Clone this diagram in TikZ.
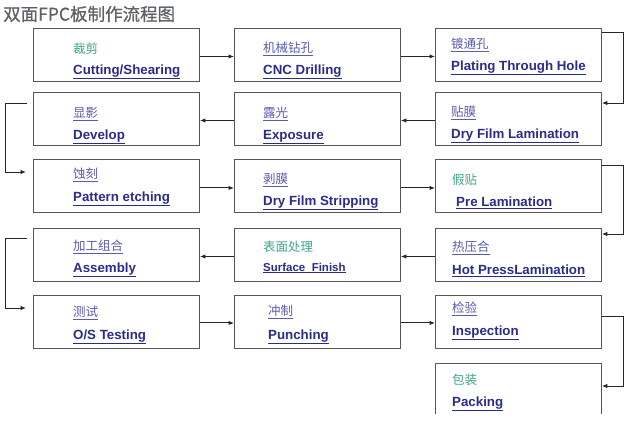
\documentclass[tikz,border=0pt]{standalone}
\usepackage{fontspec}
\setmainfont{Liberation Sans}
\newfontfamily\cjk{Noto Sans CJK SC}
\newfontfamily\cjktitle{Noto Sans CJK SC}[FakeBold=0.8]
\usetikzlibrary{arrows.meta}
\definecolor{boxgray}{HTML}{555555}
\definecolor{engblue}{HTML}{2B2B8A}
\definecolor{cnblue}{HTML}{5A5AAE}
\definecolor{cnteal}{HTML}{3FA586}
\definecolor{titlegray}{HTML}{5E6166}
\tikzset{
  x=1pt,y=-1pt,
  stepbox/.style={draw=boxgray,line width=0.9pt,minimum width=166pt,minimum height=53pt,inner sep=0pt,anchor=north west},
  eng/.style={anchor=west,inner sep=0pt,text=engblue,font=\fontsize{13.3}{15}\selectfont\bfseries},
  cnb/.style={anchor=west,inner sep=0pt,text=cnblue,font=\fontsize{12.5}{14}\selectfont\cjk},
  cnt/.style={anchor=west,inner sep=0pt,text=cnteal,font=\fontsize{12.5}{14}\selectfont\cjk},
  conn/.style={draw=black!85,line width=1pt,-{Latex[length=5.5pt,width=4.5pt]}},
}
\newcommand{\ul}[1]{\underline{#1}}
\begin{document}
\begin{tikzpicture}
\useasboundingbox (0,0) rectangle (629,421);
\node[anchor=west,inner sep=0pt,text=titlegray,font=\fontsize{17.5}{19}\selectfont\cjktitle] (title) at (3,14) {双面FPC板制作流程图};
% boxes
\node[stepbox] (cut) at (33,28) {};
\node[stepbox] (cnc) at (234,28) {};
\node[stepbox] (pth) at (435,28) {};
\node[stepbox] (dev) at (33,92) {};
\node[stepbox] (exp) at (234,92) {};
\node[stepbox] (dfl) at (435,92) {};
\node[stepbox] (etch) at (33,159) {};
\node[stepbox] (dfs) at (234,159) {};
\node[stepbox] (pre) at (435,159) {};
\node[stepbox] (asm) at (33,228) {};
\node[stepbox] (surf) at (234,228) {};
\node[stepbox] (hot) at (435,228) {};
\node[stepbox] (ost) at (33,295) {};
\node[stepbox] (pun) at (234,295) {};
\node[stepbox] (ins) at (435,295) {};
\node[stepbox,draw=none,minimum height=50pt] (pack) at (435,363) {};
\draw[draw=boxgray,line width=0.9pt] (pack.south west) -- (pack.north west) -- (pack.north east) -- (pack.south east);
% texts
\node[cnt] (t1a) at (73,49) {裁剪};
\node[eng] (t1b) at (73,72) {\ul{Cutting/Shearing}};
\node[cnb] (t2a) at (263,49) {\ul{机械钻孔}};
\node[eng] (t2b) at (263,72) {\ul{CNC Drilling}};
\node[cnb] (t3a) at (451,45) {\ul{镀通孔}};
\node[eng] (t3b) at (451,68) {\ul{Plating Through Hole}};
\node[cnb] (t4a) at (73,114) {\ul{显影}};
\node[eng] (t4b) at (73,137) {\ul{Develop}};
\node[cnb] (t5a) at (263,114) {\ul{露光}};
\node[eng] (t5b) at (263,137) {\ul{Exposure}};
\node[cnb] (t6a) at (451,113) {\ul{贴膜}};
\node[eng] (t6b) at (451,136) {\ul{Dry Film Lamination}};
\node[cnb] (t7a) at (73,175) {\ul{蚀刻}};
\node[eng] (t7b) at (73,199) {\ul{Pattern etching}};
\node[cnb] (t8a) at (263,180) {\ul{剥膜}};
\node[eng] (t8b) at (263,203) {\ul{Dry Film Stripping}};
\node[cnt] (t9a) at (452,180) {假贴};
\node[eng] (t9b) at (456,203) {\ul{Pre Lamination}};
\node[cnb] (t10a) at (73,247) {\ul{加工组合}};
\node[eng] (t10b) at (73,270) {\ul{Assembly}};
\node[cnt] (t11a) at (263,247) {表面处理};
\node[eng,font=\fontsize{11.5}{13}\selectfont\bfseries] (t11b) at (263,268) {\ul{Surface\ \ Finish}};
\node[cnb] (t12a) at (452,248) {\ul{热压合}};
\node[eng] (t12b) at (452,271) {\ul{Hot PressLamination}};
\node[cnb] (t13a) at (73,313) {\ul{测试}};
\node[eng] (t13b) at (73,337) {\ul{O/S Testing}};
\node[cnb] (t14a) at (268,312) {\ul{冲制}};
\node[eng] (t14b) at (268,337) {\ul{Punching}};
\node[cnb] (t15a) at (452,309) {\ul{检验}};
\node[eng] (t15b) at (452,333) {\ul{Inspection}};
\node[cnt] (t16a) at (452,380) {包装};
\node[eng] (t16b) at (452,404) {\ul{Packing}};
% connectors
\draw[conn] ([yshift=-1.5pt]cut.east) -- ([yshift=-1.5pt]cnc.west);
\draw[conn] ([yshift=-1.5pt]cnc.east) -- ([yshift=-1.5pt]pth.west);
\draw[conn] ([yshift=-4pt]pth.north east) -- ++(22,0) |- ([yshift=-11pt]dfl.north east);
\draw[conn] ([yshift=-1.5pt]dfl.west) -- ([yshift=-1.5pt]exp.east);
\draw[conn] ([yshift=-1.5pt]exp.west) -- ([yshift=-1.5pt]dev.east);
\draw[conn] ([xshift=-6pt,yshift=-11pt]dev.north west) -- ++(-22,0) |- ([xshift=-7pt,yshift=-13pt]etch.north west);
\draw[conn] ([yshift=-2pt]etch.east) -- ([yshift=-2pt]dfs.west);
\draw[conn] ([yshift=-2pt]dfs.east) -- ([yshift=-2pt]pre.west);
\draw[conn] ([yshift=-6pt]pre.north east) -- ++(22,0) |- ([yshift=-6pt]hot.north east);
\draw[conn] ([yshift=-1.5pt]hot.west) -- ([yshift=-1.5pt]surf.east);
\draw[conn] ([yshift=-1.5pt]surf.west) -- ([yshift=-1.5pt]asm.east);
\draw[conn] ([xshift=-6pt,yshift=-10pt]asm.north west) -- ++(-22,0) |- ([xshift=-7pt,yshift=-13pt]ost.north west);
\draw[conn] ([yshift=-1pt]ost.east) -- ([yshift=-1pt]pun.west);
\draw[conn] ([yshift=-1pt]pun.east) -- ([yshift=-1pt]ins.west);
\draw[conn] ([yshift=-21pt]ins.north east) -- ++(22,0) |- ([yshift=-23pt]pack.north east);
\end{tikzpicture}
\end{document}
